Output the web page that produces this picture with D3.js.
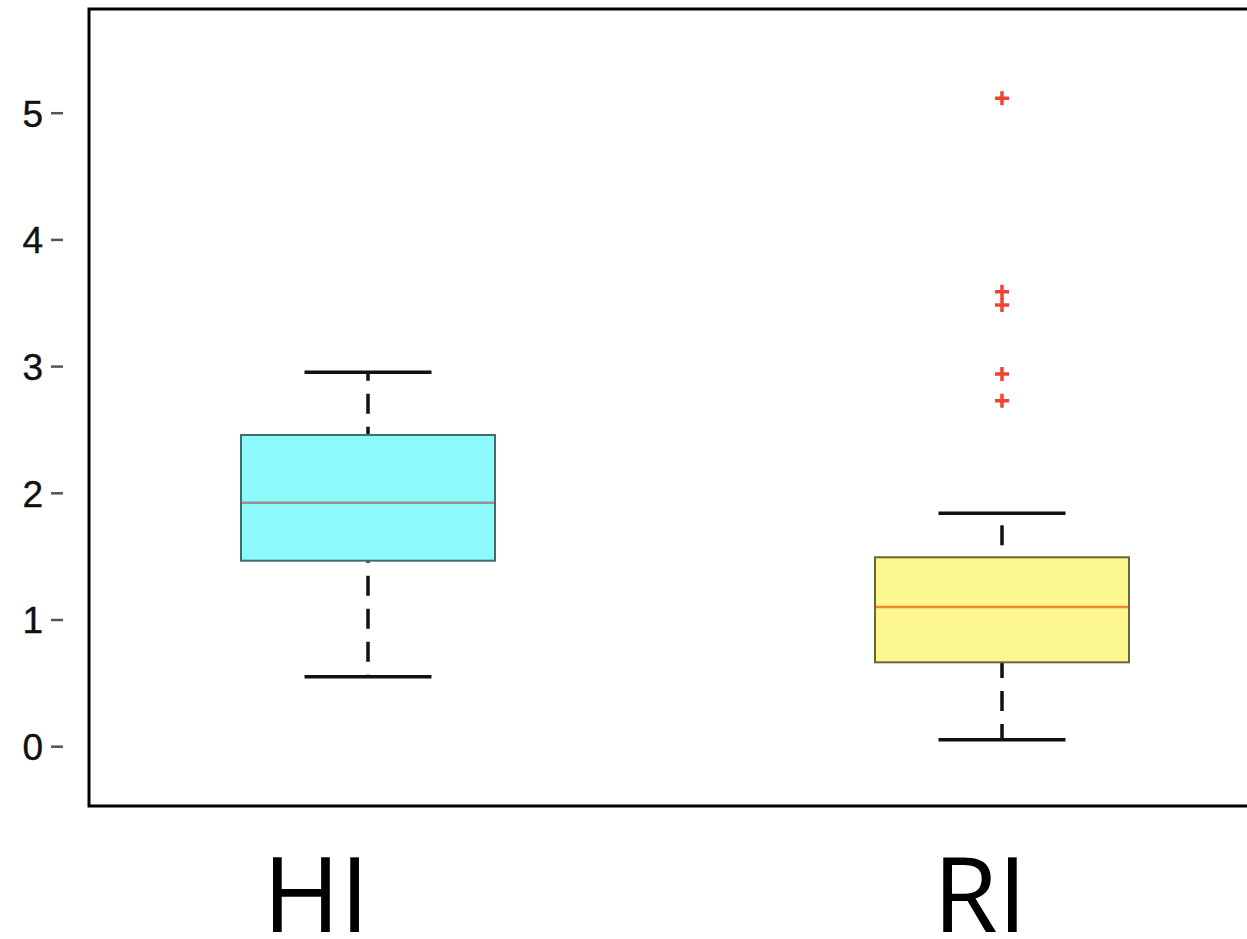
<!DOCTYPE html>
<html>
<head>
<meta charset="utf-8">
<script src="https://cdn.jsdelivr.net/npm/d3@7"></script>
<style>
    html, body { margin: 0; padding: 0; background: white; }
    svg { display: block; }
</style>
</head>
<body>
<div id="chartdiv"></div>
<script>
/*global d3 */

////////////////////////////////////////
// data
////////////////////////////////////////

var categories = ["HI", "RI"];
var lowerWhisker = [0.552, 0.055];
var lowerQuartile = [1.468, 0.666];
var medians = [1.926, 1.103];
var upperQuartile = [2.46, 1.495];
var upperWhisker = [2.955, 1.842];
var outliersHI = [];
var outliersRI = [5.118, 3.591, 3.486, 2.942, 2.731];
var yTicks = [0, 1, 2, 3, 4, 5];


(function () {
    "use strict";

    var ds = {w: 1247, h: 939,
              frame: {left: 89, top: 9, bottom: 806, right: 1252},
              boxw: 254, capw: 127,
              dash: 20, gap: 13,
              fills: {HI: "#8cf9fb", RI: "#fdf78f"},
              edges: {HI: "#3f6e6f", RI: "#6a6838"},
              medcolors: {HI: "#a08e8e", RI: "#f38a2a"},
              outcolor: "#ee4433"},
        svg, x, xlab, y, rows;

    rows = categories.map(function (c, i) {
        return {cat: c, lo: lowerWhisker[i], q1: lowerQuartile[i],
                med: medians[i], q3: upperQuartile[i], hi: upperWhisker[i],
                outs: [outliersHI, outliersRI][i]};
    });

    //y value at the frame top and bottom is solved from the tick spacing
    y = d3.scaleLinear().domain([0, 5]).range([746.7, 113.2]);
    x = d3.scalePoint().domain(categories).range([368, 1002]);
    xlab = d3.scalePoint().domain(categories).range([316, 980]);

    svg = d3.select("#chartdiv").append("svg")
        .attr("width", ds.w).attr("height", ds.h);

    //frame (right edge runs off the picture)
    svg.append("rect")
        .attr("x", ds.frame.left).attr("y", ds.frame.top)
        .attr("width", ds.frame.right - ds.frame.left)
        .attr("height", ds.frame.bottom - ds.frame.top)
        .attr("fill", "white").attr("stroke", "black")
        .attr("stroke-width", 3);

    //y axis: detached tick dashes and labels
    var yax = svg.append("g");
    yax.selectAll("line").data(yTicks).enter().append("line")
        .attr("x1", 51).attr("x2", 63)
        .attr("y1", function (d) { return y(d); })
        .attr("y2", function (d) { return y(d); })
        .attr("stroke", "#555").attr("stroke-width", 2.5);
    yax.selectAll("text").data(yTicks).enter().append("text")
        .attr("x", 43).attr("y", function (d) { return y(d); })
        .attr("dy", "0.36em")
        .attr("text-anchor", "end")
        .style("font-family", "'Liberation Sans', Arial, sans-serif")
        .style("font-size", "37px")
        .attr("fill", "#111")
        .attr("stroke", "#111").attr("stroke-width", 0.4)
        .text(function (d) { return d; });

    //dashed whisker centred between its two ends
    function dashedLine (g, cx, v1, v2) {
        var ya = y(v1), yb = y(v2), len = Math.abs(yb - ya),
            period = ds.dash + ds.gap,
            n = Math.max(1, Math.floor((len - ds.gap) / period)),
            used = n * period - ds.gap,
            off = -(len - used) / 2;
        g.append("line")
            .attr("x1", cx).attr("x2", cx)
            .attr("y1", Math.min(ya, yb)).attr("y2", Math.max(ya, yb))
            .attr("stroke", "#111").attr("stroke-width", 3.5)
            .attr("stroke-dasharray", ds.dash + "," + ds.gap)
            .attr("stroke-dashoffset", off);
    }

    function cap (g, cx, v) {
        g.append("line")
            .attr("x1", cx - ds.capw / 2).attr("x2", cx + ds.capw / 2)
            .attr("y1", y(v)).attr("y2", y(v))
            .attr("stroke", "#111").attr("stroke-width", 3.5);
    }

    rows.forEach(function (r) {
        var g = svg.append("g"), cx = x(r.cat);
        dashedLine(g, cx, r.q3, r.hi);
        dashedLine(g, cx, r.lo, r.q1);
        cap(g, cx, r.hi);
        cap(g, cx, r.lo);
        g.append("rect")
            .attr("x", cx - ds.boxw / 2).attr("y", y(r.q3))
            .attr("width", ds.boxw).attr("height", y(r.q1) - y(r.q3))
            .attr("fill", ds.fills[r.cat])
            .attr("stroke", ds.edges[r.cat]).attr("stroke-width", 2);
        g.append("line")
            .attr("x1", cx - ds.boxw / 2 + 1).attr("x2", cx + ds.boxw / 2 - 1)
            .attr("y1", y(r.med)).attr("y2", y(r.med))
            .attr("stroke", ds.medcolors[r.cat]).attr("stroke-width", 2.5);
        //outliers as red plus marks
        g.selectAll("path.out").data(r.outs).enter().append("path")
            .attr("class", "out")
            .attr("transform", function (d) {
                return "translate(" + cx + "," + y(d) + ")"; })
            .attr("d", "M -7 0 L 7 0 M 0 -7 L 0 7")
            .attr("stroke", ds.outcolor).attr("stroke-width", 3.5)
            .attr("fill", "none");
    });

    //category labels under the frame
    svg.append("g").selectAll("text").data(categories).enter()
        .append("text")
        .attr("x", function (d) { return xlab(d); })
        .attr("y", 932)
        .attr("text-anchor", "middle")
        .style("font-family", "'Open Sans', 'DejaVu Sans', sans-serif")
        .style("font-size", "105px")
        .attr("fill", "black")
        .text(function (d) { return d; });
}());
</script>
</body>
</html>
